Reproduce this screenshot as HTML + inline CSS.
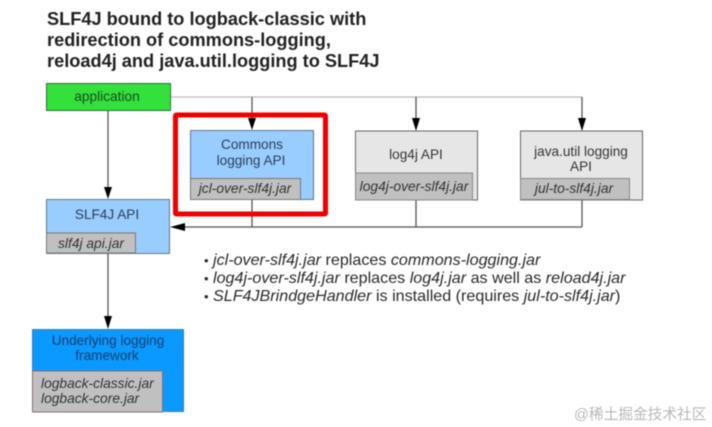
<!DOCTYPE html>
<html>
<head>
<meta charset="utf-8">
<style>
html,body{margin:0;padding:0;background:#fff}
svg{display:block;filter:blur(.6px)}
text{font-family:"Liberation Sans",sans-serif}
</style>
</head>
<body>
<svg width="712" height="427" viewBox="0 0 712 427" xmlns="http://www.w3.org/2000/svg">
<rect width="712" height="427" fill="#fff"/>
<g font-weight="bold" font-size="18.200" fill="#222">
<text x="47" y="25">SLF4J bound to logback-classic with</text>
<text x="47" y="46">redirection of commons-logging,</text>
<text x="47" y="67">reload4j and java.util.logging to SLF4J</text>
</g>

<g stroke="#555" stroke-width="1.300" fill="none">
<path d="M170 97H582" stroke="#bbb"/>
<path d="M252 97V125M416 97V125M582 97V125"/>
<path d="M108 110V190M108 253V320"/>
<path d="M252 200V227M416 200V227M582 200V227M180 227H582"/>
</g>
<g fill="#000">
<path d="M248 118H256L252 130Z"/>
<path d="M412 118H420L416 131Z"/>
<path d="M578 118H586L582 131Z"/>
<path d="M104 187H112L108 199Z"/>
<path d="M104 316H112L108 329Z"/>
<path d="M170 227L185 223V231Z"/>
</g>

<rect x="46.500" y="83.500" width="124" height="27" fill="#33e03c" stroke="#2a6e33" stroke-width="1"/>
<text x="107" y="101" font-size="13.700" text-anchor="middle" fill="#1c4a22">application</text>

<rect x="190.500" y="130.500" width="123" height="69" fill="#99ccff" stroke="#5c7890" stroke-width="1"/>
<rect x="190.500" y="178.500" width="110" height="21" fill="#c0c0c0" stroke="#777" stroke-width="1"/>
<text x="252" y="149" font-size="13.600" text-anchor="middle" fill="#2b4058">Commons</text>
<text x="251" y="165" font-size="13.600" text-anchor="middle" fill="#2b4058">logging API</text>
<text x="245" y="193" font-size="13.800" font-style="italic" text-anchor="middle" fill="#333">jcl-over-slf4j.jar</text>

<rect x="355.500" y="131" width="122" height="69" fill="#e6e6e6" stroke="#666" stroke-width="1"/>
<rect x="355.500" y="173" width="117" height="27" fill="#c0c0c0" stroke="#888" stroke-width="1"/>
<text x="416" y="159" font-size="13.600" text-anchor="middle" fill="#333">log4j API</text>
<text x="414" y="191" font-size="13.800" font-style="italic" text-anchor="middle" fill="#333">log4j-over-slf4j.jar</text>

<rect x="520.500" y="131" width="122" height="69" fill="#e6e6e6" stroke="#666" stroke-width="1"/>
<rect x="520.500" y="178.500" width="109" height="21" fill="#c0c0c0" stroke="#888" stroke-width="1"/>
<text x="581" y="156" font-size="13.600" text-anchor="middle" fill="#333">java.util logging</text>
<text x="581" y="171" font-size="13.600" text-anchor="middle" fill="#333">API</text>
<text x="574" y="193" font-size="13.800" font-style="italic" text-anchor="middle" fill="#333">jul-to-slf4j.jar</text>

<rect x="46.500" y="199.500" width="123" height="54" fill="#99ccff" stroke="#5c7890" stroke-width="1"/>
<rect x="46.500" y="233" width="89" height="20" fill="#c0c0c0" stroke="#777" stroke-width="1"/>
<text x="107" y="219" font-size="13.600" text-anchor="middle" fill="#2b4058">SLF4J API</text>
<text x="91" y="248" font-size="13.800" font-style="italic" text-anchor="middle" fill="#333">slf4j api.jar</text>

<rect x="32.500" y="329.500" width="151" height="82" fill="#0a99ff" stroke="#3a7fb5" stroke-width="1"/>
<rect x="32.500" y="371" width="130" height="41" fill="#c0c0c0" stroke="#8a6a70" stroke-width="1"/>
<text x="108" y="345" font-size="13.600" text-anchor="middle" fill="#10406e">Underlying logging</text>
<text x="107" y="360" font-size="13.600" text-anchor="middle" fill="#10406e">framework</text>
<text x="41" y="388" font-size="13.800" font-style="italic" fill="#333">logback-classic.jar</text>
<text x="41" y="403" font-size="13.800" font-style="italic" fill="#333">logback-core.jar</text>

<rect x="175.500" y="115" width="150" height="99" fill="none" stroke="#f00000" stroke-width="5" rx="1"/>

<g font-size="16.120" fill="#2a2a2a">
<text x="204" y="265" font-size="13">•</text>
<text x="204" y="283" font-size="13">•</text>
<text x="204" y="301" font-size="13">•</text>
<text x="213" y="265"><tspan font-style="italic">jcl-over-slf4j.jar</tspan> replaces <tspan font-style="italic">commons-logging.jar</tspan></text>
<text x="213" y="283"><tspan font-style="italic">log4j-over-slf4j.jar</tspan> replaces <tspan font-style="italic">log4j.jar</tspan> as well as <tspan font-style="italic">reload4j.jar</tspan></text>
<text x="213" y="301"><tspan font-style="italic">SLF4JBrindgeHandler</tspan> is installed (requires <tspan font-style="italic">jul-to-slf4j.jar</tspan>)</text>
</g>

<text x="574" y="419" font-size="14.700" fill="#b8b8b8" style="font-family:'Liberation Sans','Noto Sans CJK SC',sans-serif">@稀土掘金技术社区</text>
</svg>
</body>
</html>
